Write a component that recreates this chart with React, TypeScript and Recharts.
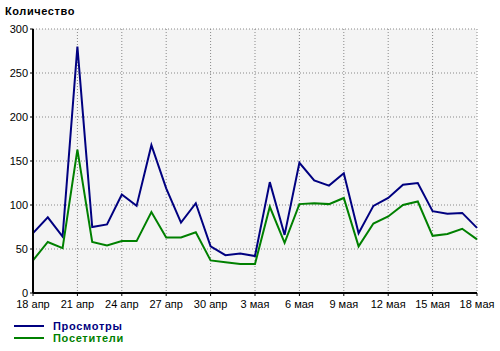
import { LineChart, Line, XAxis, YAxis, CartesianGrid } from 'recharts';

const dates = [
  '18 апр', '19 апр', '20 апр', '21 апр', '22 апр', '23 апр', '24 апр', '25 апр',
  '26 апр', '27 апр', '28 апр', '29 апр', '30 апр', '1 мая', '2 мая', '3 мая',
  '4 мая', '5 мая', '6 мая', '7 мая', '8 мая', '9 мая', '10 мая', '11 мая',
  '12 мая', '13 мая', '14 мая', '15 мая', '16 мая', '17 мая', '18 мая',
];

const views = [
  68, 86, 64, 280, 75, 78, 112, 99, 168, 119, 80, 102, 53, 43, 45, 42,
  126, 66, 148, 128, 122, 136, 68, 99, 108, 123, 125, 93, 90, 91, 74,
];

const visitors = [
  37, 58, 51, 163, 58, 54, 59, 59, 92, 63, 63, 69, 37, 35, 33, 33,
  98, 57, 101, 102, 101, 108, 53, 79, 87, 100, 104, 65, 67, 73, 61,
];

const xTicks = [0, 3, 6, 9, 12, 15, 18, 21, 24, 27, 30];
const yTicks = [0, 50, 100, 150, 200, 250, 300];

const data = dates.map((d, i) => ({ idx: i, date: d, views: views[i], visitors: visitors[i] }));

const font = '"Liberation Sans", Arial, sans-serif';

const legendRow = { display: 'flex', alignItems: 'center', height: 12, lineHeight: '12px' };

export default function App() {
  return (
    <div style={{ position: 'absolute', left: 0, top: 0, width: 500, height: 351, background: '#fff', fontFamily: font }}>
      <div style={{ position: 'absolute', left: 5, top: 5, fontSize: 11, fontWeight: 'bold', letterSpacing: 0.6, color: '#000' }}>
        Количество
      </div>
      <LineChart width={500} height={351} data={data} margin={{ top: 29, right: 23, left: 0, bottom: 38 }}>
        <CartesianGrid fill="#f4f4f4" stroke="#888" strokeDasharray="1 2" />
        <XAxis
          dataKey="idx"
          type="number"
          domain={[0, 30]}
          ticks={xTicks}
          tickFormatter={(v: number) => dates[v]}
          tick={{ fill: '#000', fontSize: 11, fontFamily: font }}
          tickLine={{ stroke: '#000' }}
          tickSize={3}
          tickMargin={4}
          axisLine={{ stroke: '#000', strokeWidth: 2 }}
          height={20}
          interval={0}
        />
        <YAxis
          domain={[0, 300]}
          ticks={yTicks}
          tick={{ fill: '#000', fontSize: 11, fontFamily: font }}
          tickLine={{ stroke: '#000' }}
          tickSize={3}
          tickMargin={2}
          axisLine={{ stroke: '#000', strokeWidth: 2 }}
          width={33}
          interval={0}
        />
        <Line type="linear" dataKey="views" stroke="#000080" strokeWidth={2} dot={false} isAnimationActive={false} />
        <Line type="linear" dataKey="visitors" stroke="#008000" strokeWidth={2} dot={false} isAnimationActive={false} />
      </LineChart>
      <div style={{ position: 'absolute', left: 14, top: 320, fontSize: 11, fontWeight: 'bold', letterSpacing: 0.7 }}>
        <div style={{ ...legendRow, color: '#000080' }}>
          <span style={{ display: 'inline-block', width: 30, height: 2, background: '#000080', marginRight: 9 }} />
          Просмотры
        </div>
        <div style={{ ...legendRow, color: '#008000' }}>
          <span style={{ display: 'inline-block', width: 30, height: 2, background: '#008000', marginRight: 9 }} />
          Посетители
        </div>
      </div>
    </div>
  );
}
